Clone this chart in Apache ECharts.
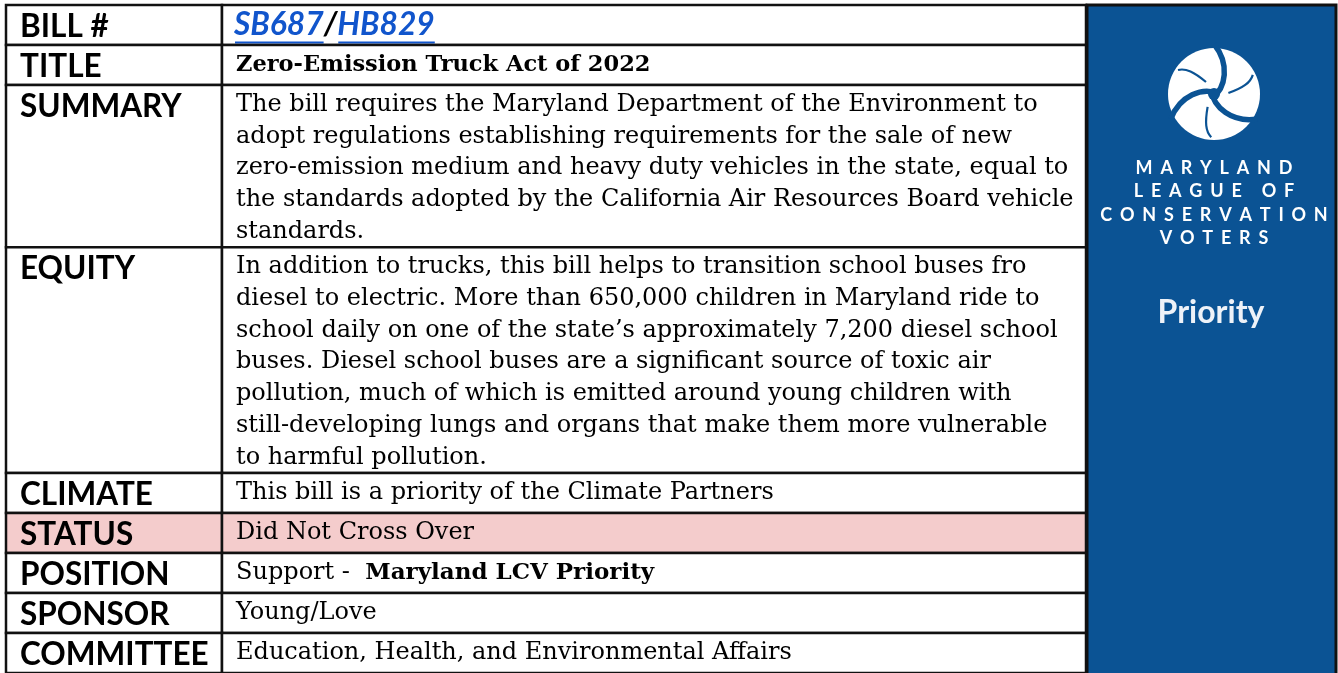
<!DOCTYPE html>
<html>
<head>
<meta charset="utf-8">
<script src="https://cdn.jsdelivr.net/npm/echarts@6/dist/echarts.min.js"></script>
<style>
  html, body { margin: 0; padding: 0; background: #ffffff; }
  #chart { width: 1338px; height: 673px; }
</style>
</head>
<body>
<div id="chart"></div>
<script>
// ---------------- DATA ----------------
const rowLabels = ['BILL #', 'TITLE', 'SUMMARY', 'EQUITY', 'CLIMATE', 'STATUS', 'POSITION', 'SPONSOR', 'COMMITTEE'];
const billNumbers = ['SB687', 'HB829'];
const titleText = 'Zero-Emission Truck Act of 2022';
const summaryLines = [
  'The bill requires the Maryland Department of the Environment to',
  'adopt regulations establishing requirements for the sale of new',
  'zero-emission medium and heavy duty vehicles in the state, equal to',
  'the standards adopted by the California Air Resources Board vehicle',
  'standards.'
];
const equityLines = [
  'In addition to trucks, this bill helps to transition school buses fro',
  'diesel to electric. More than 650,000 children in Maryland ride to',
  'school daily on one of the state\u2019s approximately 7,200 diesel school',
  'buses. Diesel school buses are a significant source of toxic air',
  'pollution, much of which is emitted around young children with',
  'still-developing lungs and organs that make them more vulnerable',
  'to harmful pollution.'
];
const climateText = 'This bill is a priority of the Climate Partners';
const statusText = 'Did Not Cross Over';
const positionParts = ['Support -  ', 'Maryland LCV Priority'];
const sponsorText = 'Young/Love';
const committeeText = 'Education, Health, and Environmental Affairs';
const highlightedRow = 'STATUS';
const orgNameLines = ['MARYLAND', 'LEAGUE OF', 'CONSERVATION', 'VOTERS'];
const badgeText = 'Priority';

// ---------------- STYLE / LAYOUT ----------------
const LINE_PX = 31.7;               // px per value text line
const LABEL_UNITS = 36 / LINE_PX;   // label line height in value-line units
const ROW_PAD = 4 / LINE_PX;        // cell padding in value-line units
const LABEL_FRAC = 0.2;
const BORDER = '#111111';
const BLUE = '#0b5394';
const PINK = '#f4cccc';
const LINK = '#1155cc';

const measureCtx = document.createElement('canvas').getContext('2d');
function textW(str, font) { measureCtx.font = font; return measureCtx.measureText(str).width; }
function fitSize(str, family, weight, target) {
  const w = textW(str, weight + ' 100px ' + family);
  return Math.round(100 * target / w * 4) / 4;
}
const BODY_FAMILY = '"DejaVu Serif"';
const LABEL_FAMILY = 'Lato';
const bodySize = fitSize(summaryLines[0], BODY_FAMILY, 'normal', 800);
const titleSize = fitSize(titleText, BODY_FAMILY, 'bold', 415);
const posBoldSize = fitSize(positionParts[1], BODY_FAMILY, 'bold', 290);
const labelSize = fitSize('COMMITTEE', LABEL_FAMILY, 'bold', 189);
const billSize = fitSize(billNumbers.join('/'), LABEL_FAMILY, 'italic bold', 200);

const rowContent = [
  { kind: 'bill', lines: [billNumbers] },
  { kind: 'title', lines: [titleText] },
  { kind: 'body', lines: summaryLines },
  { kind: 'body', lines: equityLines },
  { kind: 'body', lines: [climateText] },
  { kind: 'body', lines: [statusText] },
  { kind: 'position', lines: [positionParts] },
  { kind: 'body', lines: [sponsorText] },
  { kind: 'body', lines: [committeeText] }
];
let acc = 0;
const rowData = rowContent.map((r, i) => {
  const start = acc;
  acc += Math.max(LABEL_UNITS, r.lines.length) + ROW_PAD;
  return [start, acc, i];
});
const totalUnits = acc;

function renderRow(params, api) {
  const y0 = api.value(0), y1 = api.value(1), idx = api.value(2);
  const row = rowContent[idx];
  const tl = api.coord([0, y0]);
  const mid = api.coord([LABEL_FRAC, y1]);
  const br = api.coord([1, y1]);
  const unit = api.size([0, 1])[1];
  const fill = rowLabels[idx] === highlightedRow ? PINK : '#ffffff';
  const h = br[1] - tl[1];
  const children = [
    { type: 'rect', shape: { x: tl[0], y: tl[1], width: mid[0] - tl[0], height: h },
      style: { fill: fill, stroke: BORDER, lineWidth: 2.5 } },
    { type: 'rect', shape: { x: mid[0], y: tl[1], width: br[0] - mid[0], height: h },
      style: { fill: fill, stroke: BORDER, lineWidth: 2.5 } }
  ];
  const singleH = (LABEL_UNITS + ROW_PAD) * unit;
  children.push({ type: 'text', style: {
    text: rowLabels[idx], x: tl[0] + 14, y: tl[1] + singleH / 2 + 1.5, verticalAlign: 'middle', align: 'left',
    font: 'bold ' + labelSize + 'px ' + LABEL_FAMILY, fill: '#000000' } });
  const vx = mid[0] + 14;
  const multi = row.lines.length > 1;
  row.lines.forEach((line, li) => {
    const ly = multi ? tl[1] + ROW_PAD * unit / 2 + (li + 0.5) * unit + 2 : tl[1] + h / 2;
    if (row.kind === 'bill') {
      const f = 'italic bold ' + billSize + 'px ' + LABEL_FAMILY;
      let x = vx - 2;
      line.forEach((num, ni) => {
        if (ni > 0) {
          children.push({ type: 'text', style: { text: '/', x: x, y: ly, verticalAlign: 'middle', font: f, fill: '#000000' } });
          x += textW('/', f);
        }
        const w = textW(num, f);
        children.push({ type: 'text', style: { text: num, x: x, y: ly, verticalAlign: 'middle', font: f, fill: LINK } });
        children.push({ type: 'rect', shape: { x: x + 1, y: ly + billSize * 0.52, width: w - 1, height: 2 }, style: { fill: LINK } });
        x += w;
      });
    } else if (row.kind === 'title') {
      children.push({ type: 'text', style: { text: line, x: vx, y: ly, verticalAlign: 'middle',
        font: 'bold ' + titleSize + 'px ' + BODY_FAMILY, fill: '#000000' } });
    } else if (row.kind === 'position') {
      const f1 = bodySize + 'px ' + BODY_FAMILY;
      const f2 = 'bold ' + posBoldSize + 'px ' + BODY_FAMILY;
      children.push({ type: 'text', style: { text: line[0], x: vx, y: ly, verticalAlign: 'middle', font: f1, fill: '#000000' } });
      children.push({ type: 'text', style: { text: line[1], x: vx + textW(line[0], f1), y: ly, verticalAlign: 'middle', font: f2, fill: '#000000' } });
    } else {
      children.push({ type: 'text', style: { text: line, x: vx, y: ly, verticalAlign: 'middle',
        font: bodySize + 'px ' + BODY_FAMILY, fill: '#000000' } });
    }
  });
  return { type: 'group', children: children };
}

// ---------------- RIGHT PANEL ----------------
const PANEL = { x: 1087, y: 5, w: 249, h: 680 };
const panelCx = 1214;
function spacedText(str, cx, y, font, spacing, fill) {
  const chars = str.split('');
  const widths = chars.map(c => textW(c, font));
  const total = widths.reduce((a, b) => a + b, 0) + spacing * (chars.length - 1);
  let x = cx - total / 2;
  return chars.map((c, i) => {
    const el = { type: 'text', style: { text: c, x: x, y: y, verticalAlign: 'middle', align: 'left', font: font, fill: fill } };
    x += widths[i] + spacing;
    return el;
  });
}
const logoParts = [{ type: 'circle', shape: { cx: 0, cy: 0, r: 46 }, style: { fill: '#ffffff' } }];
[0, 1, 2].forEach(k => {
  const rot = -k * 2 * Math.PI / 3;
  logoParts.push({ type: 'bezierCurve', rotation: rot,
    shape: { x1: -2, y1: 4, cpx1: 12, cpy1: -6, cpx2: 16, cpy2: -30, x2: 0, y2: -50 },
    style: { stroke: BLUE, lineWidth: 5.5, fill: null } });
  logoParts.push({ type: 'bezierCurve', rotation: rot,
    shape: { x1: -8, y1: -12, cpx1: -20, cpy1: -22, cpx2: -28, cpy2: -26, x2: -36, y2: -24 },
    style: { stroke: BLUE, lineWidth: 2.2, fill: null } });
});
logoParts.push({ type: 'circle', shape: { cx: 0, cy: 0, r: 6 }, style: { fill: BLUE } });

const orgFont = 'bold 18px Lato';
let panelElems = [
  { type: 'rect', shape: { x: PANEL.x, y: PANEL.y, width: PANEL.w, height: PANEL.h },
    style: { fill: BLUE, stroke: BORDER, lineWidth: 3 } },
  { type: 'group', x: panelCx, y: 94, children: logoParts }
];
orgNameLines.forEach((ln, i) => {
  panelElems = panelElems.concat(spacedText(ln, panelCx, 168 + i * 23.5, orgFont, 7.8, '#ffffff'));
});
panelElems.push({ type: 'text', style: { text: badgeText, x: 1211, y: 313, align: 'center', verticalAlign: 'middle',
  font: 'bold 32px Lato', fill: '#eef2f8' } });

// ---------------- CHART ----------------
const chart = echarts.init(document.getElementById('chart'), null, { renderer: 'canvas' });
chart.setOption({
  animation: false,
  backgroundColor: '#ffffff',
  grid: { left: 6, top: 5, width: 1080, height: totalUnits * LINE_PX },
  xAxis: { type: 'value', min: 0, max: 1, show: false },
  yAxis: { type: 'value', min: 0, max: totalUnits, inverse: true, show: false },
  series: [{
    type: 'custom',
    clip: false,
    renderItem: renderRow,
    data: rowData,
    encode: { x: -1, y: [0, 1] }
  }],
  graphic: { elements: panelElems }
});
</script>
</body>
</html>
